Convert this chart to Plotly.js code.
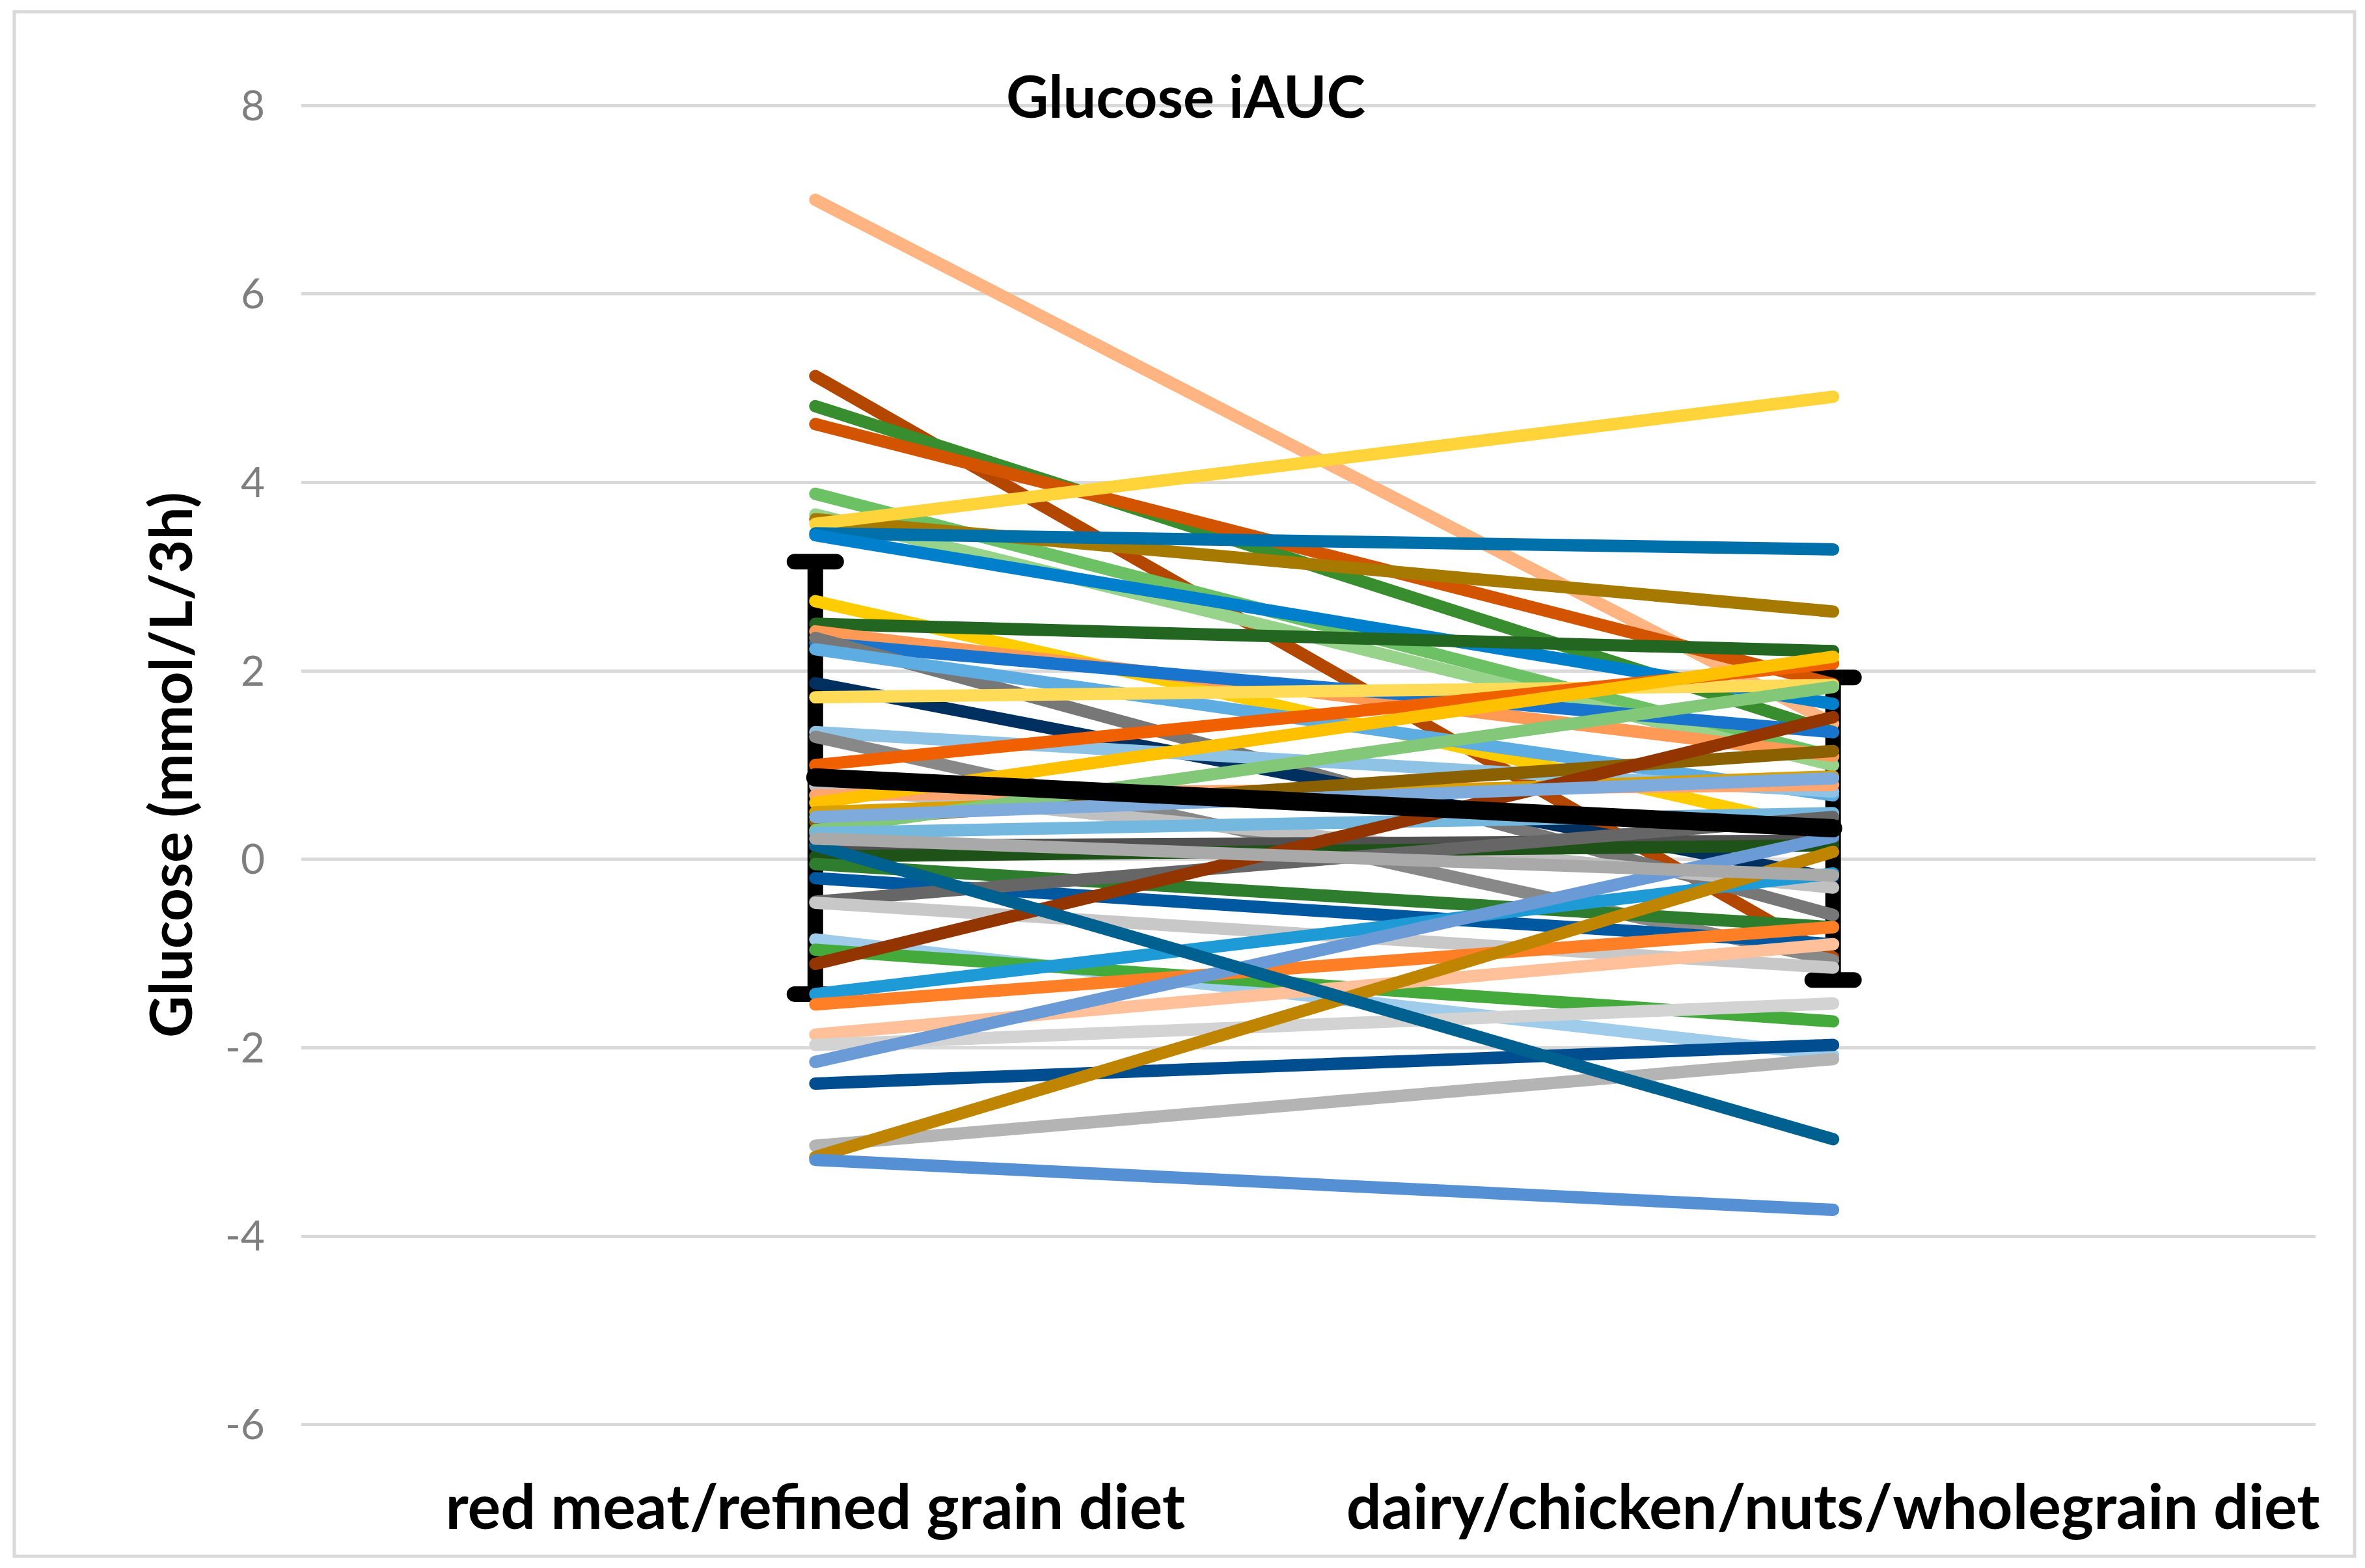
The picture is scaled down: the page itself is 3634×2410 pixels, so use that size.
<!DOCTYPE html>
<html>
<head>
<meta charset="utf-8">
<script src="https://cdn.plot.ly/plotly-3.0.1.min.js"></script>
<style>
  body { margin: 0; background: #fff; }
  #plot { width: 3634px; height: 2410px; }
  /* Excel draws its series with round ends */
  #plot path.js-line { stroke-linecap: round !important; }
  #plot g.errorbar path { stroke-linecap: round !important; }
</style>
</head>
<body>
<div id="plot"></div>
<script>
// two diets
var categories = ['red meat/refined grain diet', 'dairy/chicken/nuts/wholegrain diet'];

// y tick labels (Excel uses a plain hyphen for minus)
var yTicks = [-6, -4, -2, 0, 2, 4, 6, 8];
var yTickText = ['-6', '-4', '-2', '0', '2', '4', '6', '8'];

// one value per participant for each diet
var redMeat = [7.00, 5.13, 4.81, 4.62, 3.88, 3.66, 3.61, 3.56, 3.46, 3.44,
  2.74, 2.50, 2.42, 2.30, 2.35, 2.23, 1.87, 1.72, 1.35, 1.30,
  1.00, 0.78, 0.68, 0.60, 0.50, 0.40, 0.31, 0.28, 0.14, 0.03,
  -0.05, -0.20, -0.45, -0.46, -0.85, -0.96, -1.11, -1.43, -1.54, -1.86,
  -1.97, -2.15, -2.38, -3.04, -3.16, -3.19, 0.15, 0.22, 0.45];
var dairy = [1.44, -1.04, 1.35, 1.86, 1.09, 1.00, 2.63, 4.91, 3.29, 1.65,
  0.30, 2.21, 1.10, 1.35, -0.59, 0.68, -0.20, 1.85, 0.72, -1.07,
  2.08, -0.30, 0.79, 2.15, 0.88, 1.15, 1.83, 0.49, 0.20, 0.15,
  -0.72, -0.90, 0.45, -1.15, -2.08, -1.72, 1.51, -0.15, -0.72, -0.90,
  -1.53, 0.24, -1.97, -2.12, 0.08, -3.72, -2.97, -0.17, 0.86];
var lineColors = ['#FFB482', '#B34700', '#388E2F', '#D35400', '#6CC165', '#97D38B', '#A67A00', '#FFD43B', '#0070AB', '#0080CC',
  '#FFCC00', '#226622', '#FF9955', '#1874CD', '#777777', '#5DADE2', '#003060', '#FFDB58', '#8EC3E6', '#888888',
  '#F06000', '#C0C0C0', '#FFA570', '#FFC000', '#DAA000', '#8B6000', '#82C878', '#74B8E0', '#505050', '#1E5218',
  '#2E7D2E', '#0058A0', '#666666', '#C8C8C8', '#A0CCEB', '#44AA3C', '#933500', '#1E9BD7', '#FF7F27', '#FFC09A',
  '#D3D3D3', '#6A9BD6', '#004E8F', '#B4B4B4', '#C08500', '#5590D4', '#006090', '#A9A9A9', '#7FAADC'];

// group mean and its error bars
var meanValues = [0.87, 0.33];
var errPlus = [2.29, 1.60];
var errMinus = [2.30, 1.61];

var xs = [0, 1];
var data = [];

// error bars first so the participant lines sit over them
data.push({
  x: xs, y: meanValues, type: 'scatter', mode: 'markers',
  marker: {size: 1, opacity: 0},
  error_y: {type: 'data', symmetric: false, array: errPlus, arrayminus: errMinus,
    color: '#000000', thickness: 24, width: 32},
  hoverinfo: 'skip'
});

for (let i = 0; i < redMeat.length; i++) {
  data.push({
    x: xs, y: [redMeat[i], dairy[i]], type: 'scatter', mode: 'lines',
    line: {color: lineColors[i], width: 19}
  });
}

// mean line on top
data.push({
  x: xs, y: meanValues, type: 'scatter', mode: 'lines',
  line: {color: '#000000', width: 28}
});

var W = 3634, H = 2410;
// pixel box of the plot area; range padded a touch so the 8 and -6 gridlines show
var L = 463, R = 3558, T = 158, B = 2194;
function px(x) { return (x - L) / (R - L); }
function py(y) { return (B - y) / (B - T); }

var layout = {
  width: W, height: H,
  margin: {l: L, r: W - R, t: T, b: H - B, pad: 0},
  showlegend: false,
  paper_bgcolor: '#ffffff',
  plot_bgcolor: '#ffffff',
  font: {family: 'Lato, "Open Sans", sans-serif', color: '#000000'},
  xaxis: {
    range: [-0.505, 1.474],
    tickvals: xs, ticktext: categories,
    tickfont: {size: 95, color: '#000000', weight: 'bold'},
    ticks: '', showgrid: false, zeroline: false, showline: false,
    ticklabelstandoff: 60, fixedrange: true
  },
  yaxis: {
    range: [-6.03, 8.03],
    tickvals: yTicks, ticktext: yTickText,
    tickfont: {size: 64, color: '#7F7F7F'},
    ticks: '', showgrid: true, gridcolor: '#D9D9D9', gridwidth: 5,
    zeroline: false, showline: false,
    ticklabelstandoff: 55, fixedrange: true
  },
  annotations: [
    {text: 'Glucose iAUC', xref: 'paper', yref: 'paper', x: px(1822), y: py(146),
     xanchor: 'center', yanchor: 'middle', showarrow: false,
     font: {size: 90, color: '#000000', weight: 'bold'}},
    {text: 'Glucose (mmol/L/3h)', xref: 'paper', yref: 'paper', x: px(260), y: 0.5,
     xanchor: 'center', yanchor: 'middle', textangle: -90, showarrow: false,
     font: {size: 89, color: '#000000', weight: 'bold'}}
  ],
  shapes: [
    {type: 'rect', xref: 'paper', yref: 'paper', layer: 'below',
     x0: px(22), x1: px(3618), y0: py(2392), y1: py(18),
     line: {color: '#D9D9D9', width: 5}, fillcolor: 'rgba(0,0,0,0)'}
  ]
};

Plotly.newPlot('plot', data, layout, {displayModeBar: false, staticPlot: true});
</script>
</body>
</html>
